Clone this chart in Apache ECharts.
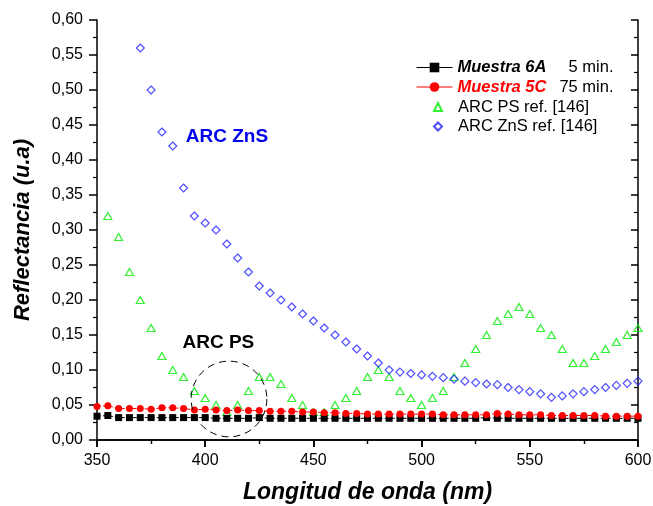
<!DOCTYPE html>
<html>
<head>
<meta charset="utf-8">
<script src="https://cdn.jsdelivr.net/npm/echarts@6/dist/echarts.min.js"></script>
<style>
  html, body { margin: 0; padding: 0; background: #fff; }
  #chart { width: 653px; height: 506px; }
</style>
</head>
<body>
<div id="chart"></div>
<script>
// longitudes de onda (nm), paso de 5
const wavelength = [350, 355, 360, 365, 370, 375, 380, 385, 390, 395, 400, 405, 410, 415, 420, 425, 430, 435, 440, 445,
  450, 455, 460, 465, 470, 475, 480, 485, 490, 495, 500, 505, 510, 515, 520, 525, 530, 535, 540, 545,
  550, 555, 560, 565, 570, 575, 580, 585, 590, 595, 600]

const muestra6A = [0.034, 0.035, 0.032, 0.032, 0.032, 0.032, 0.032, 0.032, 0.032, 0.032, 0.032, 0.031, 0.031, 0.031, 0.031, 0.032, 0.031, 0.031, 0.031, 0.031,
  0.031, 0.031, 0.031, 0.031, 0.031, 0.031, 0.031, 0.031, 0.031, 0.031, 0.031, 0.031, 0.031, 0.031, 0.031, 0.031, 0.032, 0.031, 0.031, 0.031,
  0.031, 0.031, 0.031, 0.031, 0.031, 0.031, 0.031, 0.031, 0.031, 0.031, 0.031]

const muestra5C = [0.048, 0.049, 0.045, 0.045, 0.045, 0.044, 0.046, 0.046, 0.045, 0.043, 0.044, 0.043, 0.042, 0.043, 0.042, 0.042, 0.041, 0.041, 0.041, 0.040,
  0.040, 0.039, 0.039, 0.038, 0.038, 0.037, 0.037, 0.037, 0.037, 0.037, 0.037, 0.037, 0.036, 0.036, 0.036, 0.036, 0.036, 0.038, 0.037, 0.036,
  0.036, 0.036, 0.035, 0.035, 0.035, 0.035, 0.035, 0.034, 0.034, 0.034, 0.034]

// ARC PS ref. [146] (sin dato en 350)
const arcPS = [null, 0.32, 0.29, 0.24, 0.20, 0.16, 0.12, 0.10, 0.09, 0.07, 0.06, 0.05, 0.04, 0.05, 0.07, 0.09, 0.09, 0.08, 0.06, 0.05,
  0.04, 0.04, 0.05, 0.06, 0.07, 0.09, 0.10, 0.09, 0.07, 0.06, 0.05, 0.06, 0.07, 0.09, 0.11, 0.13, 0.15, 0.17, 0.18, 0.19,
  0.18, 0.16, 0.15, 0.13, 0.11, 0.11, 0.12, 0.13, 0.14, 0.15, 0.16]

// ARC ZnS ref. [146] (desde 370)
const arcZnS = [null, null, null, null, 0.56, 0.50, 0.44, 0.42, 0.36, 0.32, 0.31, 0.30, 0.28, 0.26, 0.24, 0.22, 0.21, 0.20, 0.19, 0.18,
  0.17, 0.16, 0.15, 0.14, 0.13, 0.12, 0.11, 0.10, 0.097, 0.095, 0.093, 0.091, 0.089, 0.087, 0.084, 0.082, 0.080, 0.079, 0.075, 0.072,
  0.069, 0.066, 0.061, 0.063, 0.066, 0.069, 0.072, 0.075, 0.078, 0.081, 0.084]

const legendNames = ['Muestra 6A', 'Muestra 5C', 'ARC PS ref. [146]', 'ARC ZnS ref. [146]']
const legendTimes = ['5 min.', '75 min.', '', '']

const font = 'Liberation Sans, Arial, sans-serif'
const fs = 16.5

function pairs(ys) {
  const out = []
  ys.forEach((v, i) => {
    if (v !== null) out.push([wavelength[i], v])
  })
  return out
}

const chart = echarts.init(document.getElementById('chart'))

const frame = {
  axisLine: { lineStyle: { color: '#000', width: 1.5 } },
  splitLine: { show: false }
}

const richText = {
  b: { fontFamily: font, fontSize: fs, fontWeight: 'bold', fontStyle: 'italic', color: '#000', width: 106, lineHeight: 16 },
  r: { fontFamily: font, fontSize: fs, fontWeight: 'bold', fontStyle: 'italic', color: '#ff0000', width: 106, lineHeight: 16 },
  t: { fontFamily: font, fontSize: fs, color: '#000', width: 50, align: 'right', lineHeight: 16 },
  n: { fontFamily: font, fontSize: fs, color: '#000', padding: [0, 0, 0, 11], lineHeight: 16 }
}

// una leyenda por fila para fijar el tamaño de cada icono
const rowY = [62, 81.5, 101.5, 121]
const legends = legendNames.map((name, i) => {
  const isLine = i < 2
  return {
    orient: 'vertical',
    left: isLine ? 411 : 428,
    top: rowY[i] - 8,
    itemWidth: isLine ? 36 : 8,
    itemHeight: isLine ? 12 : 8,
    data: [isLine ? { name, lineStyle: { type: 'solid', width: 1 } } : { name }],
    formatter(n) {
      if (i === 0) return `{b|${n}}{t|${legendTimes[i]}}`
      if (i === 1) return `{r|${n}}{t|${legendTimes[i]}}`
      return `{n|${n}}`
    },
    textStyle: { fontFamily: font, fontSize: fs, color: '#000', rich: richText }
  }
})

chart.setOption({
  animation: false,
  backgroundColor: '#fff',
  grid: { left: 97, right: 15, top: 20, bottom: 66, outerBoundsMode: 'none' },
  legend: legends,
  xAxis: [
    {
      type: 'value',
      min: 350,
      max: 600,
      interval: 50,
      name: 'Longitud de onda (nm)',
      nameLocation: 'middle',
      nameGap: 41,
      nameTextStyle: { fontFamily: font, fontSize: 23, fontWeight: 'bold', fontStyle: 'italic', color: '#000' },
      axisTick: { inside: false, length: 7, lineStyle: { color: '#000', width: 1.5 } },
      minorTick: { show: true, splitNumber: 2, length: 4, lineStyle: { color: '#000', width: 1.2 } },
      axisLabel: { fontFamily: font, fontSize: 16, color: '#000', margin: 13 },
      ...frame
    },
    {
      type: 'value',
      position: 'top',
      min: 350,
      max: 600,
      interval: 50,
      axisTick: { inside: true, length: 7, lineStyle: { color: '#000', width: 1.5 } },
      minorTick: { show: true, splitNumber: 2, length: 4, lineStyle: { color: '#000', width: 1.2 } },
      axisLabel: { show: false },
      ...frame
    }
  ],
  yAxis: [
    {
      type: 'value',
      min: 0,
      max: 0.6,
      interval: 0.05,
      name: 'Reflectancia (u.a)',
      nameLocation: 'middle',
      nameGap: 63,
      nameTextStyle: { fontFamily: font, fontSize: 22, fontWeight: 'bold', fontStyle: 'italic', color: '#000' },
      axisTick: { inside: false, length: 8, lineStyle: { color: '#000', width: 1.5 } },
      minorTick: { show: true, splitNumber: 2, length: 4, lineStyle: { color: '#000', width: 1.2 } },
      axisLabel: {
        fontFamily: font,
        fontSize: 16,
        color: '#000',
        margin: 14,
        formatter: (v) => v.toFixed(2).replace('.', ',')
      },
      ...frame
    },
    {
      type: 'value',
      position: 'right',
      min: 0,
      max: 0.6,
      interval: 0.05,
      axisTick: { inside: true, length: 7, lineStyle: { color: '#000', width: 1.5 } },
      minorTick: { show: true, splitNumber: 2, length: 4, lineStyle: { color: '#000', width: 1.2 } },
      axisLabel: { show: false },
      ...frame
    }
  ],
  series: [
    {
      name: legendNames[0],
      type: 'line',
      data: pairs(muestra6A),
      symbol: 'rect',
      symbolSize: 7,
      itemStyle: { color: '#000' },
      lineStyle: { color: '#000', width: 1, type: 'dashed' },
      z: 3
    },
    {
      name: legendNames[1],
      type: 'line',
      data: pairs(muestra5C),
      symbol: 'circle',
      symbolSize: 7,
      itemStyle: { color: '#ff0000' },
      lineStyle: { color: '#ff0000', width: 1, type: 'dashed' },
      z: 4
    },
    {
      name: legendNames[2],
      type: 'scatter',
      data: pairs(arcPS),
      symbol: 'triangle',
      symbolSize: [8, 7],
      itemStyle: { color: 'rgba(255,255,255,0)', borderColor: '#00ee00', borderWidth: 1.2 },
      z: 2
    },
    {
      name: legendNames[3],
      type: 'scatter',
      data: pairs(arcZnS),
      symbol: 'diamond',
      symbolSize: [8, 8],
      itemStyle: { color: 'rgba(255,255,255,0)', borderColor: '#2222ff', borderWidth: 1.2 },
      z: 2
    }
  ]
})

// anotaciones: etiquetas y círculo discontinuo
const pZnS = chart.convertToPixel({ gridIndex: 0 }, [391, 0.433])
const pPS = chart.convertToPixel({ gridIndex: 0 }, [389.5, 0.139])
const pCirc = chart.convertToPixel({ gridIndex: 0 }, [411, 0.0586])
const pEdge = chart.convertToPixel({ gridIndex: 0 }, [428.5, 0.0586])

chart.setOption({
  graphic: [
    {
      type: 'text',
      x: pZnS[0],
      y: pZnS[1],
      style: {
        text: 'ARC ZnS',
        font: `bold 19px ${font}`,
        fill: '#0000ee',
        verticalAlign: 'middle'
      }
    },
    {
      type: 'text',
      x: pPS[0],
      y: pPS[1],
      style: {
        text: 'ARC PS',
        font: `bold 19px ${font}`,
        fill: '#000',
        verticalAlign: 'middle'
      }
    },
    {
      type: 'circle',
      shape: { cx: pCirc[0], cy: pCirc[1], r: pEdge[0] - pCirc[0] },
      style: { fill: 'none', stroke: '#000', lineWidth: 1, lineDash: [7, 5] },
      z: 10
    }
  ]
})
</script>
</body>
</html>
